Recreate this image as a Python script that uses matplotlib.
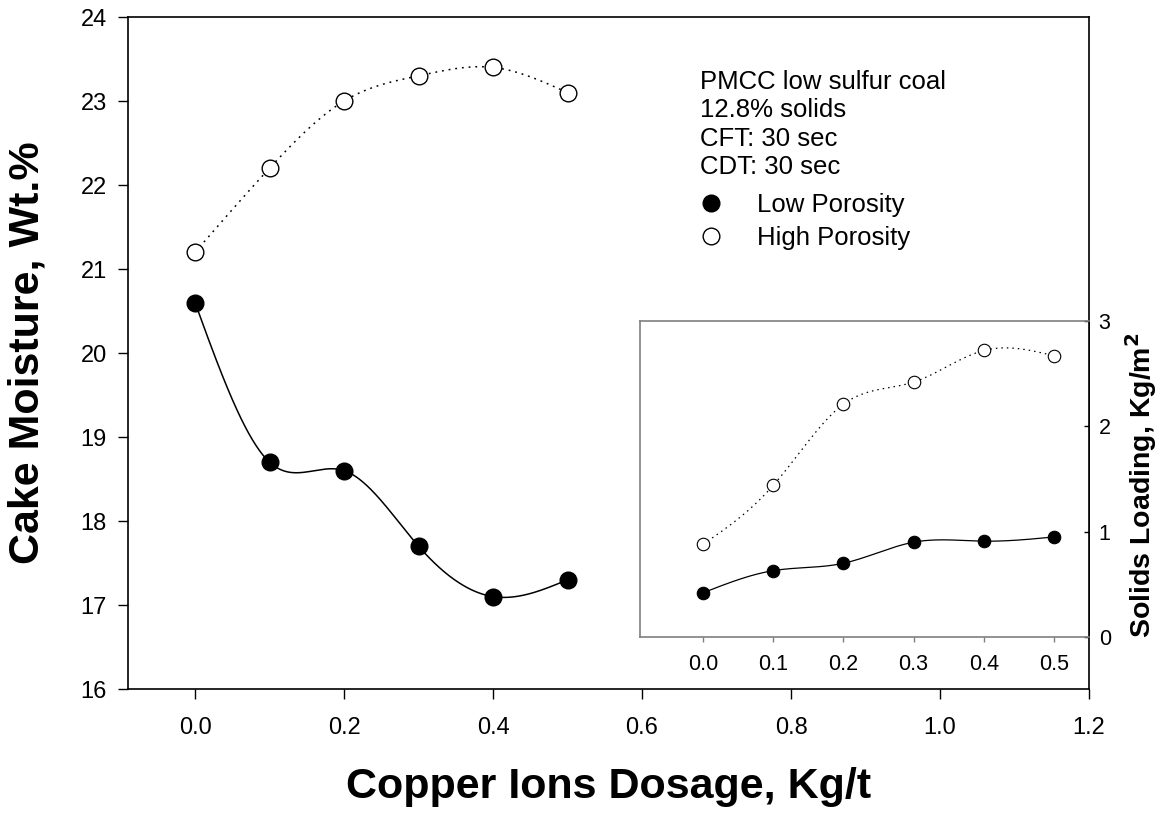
import numpy as np
import matplotlib
matplotlib.use("Agg")
import matplotlib.pyplot as plt
from matplotlib.lines import Line2D

plt.rcParams['font.family'] = ['Liberation Sans', 'DejaVu Sans']

# ---------------- data ----------------
dosage = [0.0, 0.1, 0.2, 0.3, 0.4, 0.5]
moist_low = [20.6, 18.7, 18.6, 17.7, 17.1, 17.3]
moist_high = [21.2, 22.2, 23.0, 23.3, 23.4, 23.1]
load_low = [0.42, 0.63, 0.70, 0.90, 0.91, 0.95]
load_high = [0.88, 1.44, 2.21, 2.42, 2.72, 2.67]

main_xticks = [0.0, 0.2, 0.4, 0.6, 0.8, 1.0, 1.2]
main_yticks = [16, 17, 18, 19, 20, 21, 22, 23, 24]
inset_xticks = [0.0, 0.1, 0.2, 0.3, 0.4, 0.5]
inset_yticks = [0, 1, 2, 3]
info_lines = ["PMCC low sulfur coal", "12.8% solids", "CFT: 30 sec", "CDT: 30 sec"]
legend_labels = ["Low Porosity", "High Porosity"]


def spline(x, y, n=300):
    """Natural cubic spline through the data points (for smooth connecting line)."""
    x = np.asarray(x, float)
    y = np.asarray(y, float)
    m = len(x)
    h = np.diff(x)
    A = np.zeros((m, m))
    b = np.zeros(m)
    A[0, 0] = 1
    A[-1, -1] = 1
    for i in range(1, m - 1):
        A[i, i - 1] = h[i - 1]
        A[i, i] = 2 * (h[i - 1] + h[i])
        A[i, i + 1] = h[i]
        b[i] = 3 * ((y[i + 1] - y[i]) / h[i] - (y[i] - y[i - 1]) / h[i - 1])
    c = np.linalg.solve(A, b)
    bc = (y[1:] - y[:-1]) / h - h * (2 * c[:-1] + c[1:]) / 3
    d = (c[1:] - c[:-1]) / (3 * h)
    xs = np.linspace(x[0], x[-1], n)
    idx = np.clip(np.searchsorted(x, xs) - 1, 0, m - 2)
    dx = xs - x[idx]
    ys = y[idx] + bc[idx] * dx + c[idx] * dx ** 2 + d[idx] * dx ** 3
    return xs, ys


W, H = 1164, 819
fig = plt.figure(figsize=(W / 100, H / 100), dpi=100)

# main axes: pixel box left 128, right 1089, top 17, bottom 689
L, R, T, B = 128, 1089, 17, 689
ax = fig.add_axes([L / W, 1 - B / H, (R - L) / W, (B - T) / H])
ax.set_xlim(-0.09, 1.2)
ax.set_ylim(16, 24)
for s in ax.spines.values():
    s.set_linewidth(1.2)
    s.set_color('black')

xs, ys = spline(dosage, moist_low)
ax.plot(xs, ys, color='black', lw=1.1)
xs, ys = spline(dosage, moist_high)
ax.plot(xs, ys, color='black', lw=1.1, ls=(0, (1.2, 3.2)))
ax.plot(dosage, moist_low, 'o', ms=12, mfc='black', mec='black', mew=1.0)
ax.plot(dosage, moist_high, 'o', ms=12, mfc='white', mec='black', mew=1.0)

ax.set_xticks(main_xticks)
ax.set_xticklabels([f"{v:.1f}" for v in main_xticks])
ax.set_yticks(main_yticks)
ax.set_yticklabels([str(v) for v in main_yticks])
ax.tick_params(axis='x', direction='out', length=7.2, width=1.0, labelsize=17, pad=13)
ax.tick_params(axis='y', direction='out', length=7.2, width=1.0, labelsize=17, pad=8)

ax.set_xlabel("Copper Ions Dosage, Kg/t", fontsize=31, fontweight='bold')
ax.xaxis.set_label_coords(0.5, (B - 787) / (B - T))
ax.xaxis.label.set_va('center')
ax.set_ylabel("Cake Moisture, Wt.%", fontsize=31, fontweight='bold')
ax.yaxis.set_label_coords((28 - L) / (R - L), 0.5)
ax.yaxis.label.set_va('center')

# info text
def ax_xy(px, py):
    return (px - L) / (R - L), (B - py) / (B - T)

for line, py in zip(info_lines, [82, 110, 139, 167]):
    ax.text(*ax_xy(700, py), line, transform=ax.transAxes, fontsize=18.5,
            ha='left', va='center')

handles = [Line2D([], [], ls='none', marker='o', ms=12, mfc='black', mec='black'),
           Line2D([], [], ls='none', marker='o', ms=12, mfc='white', mec='black')]
leg = ax.legend(handles, legend_labels, loc='upper left',
                bbox_to_anchor=ax_xy(698, 193), bbox_transform=ax.transAxes,
                frameon=False, fontsize=18.5, handlelength=1.0, handletextpad=1.3,
                labelspacing=0.36, borderpad=0, borderaxespad=0)

# inset axes: left 640, right 1089, top 321, bottom 637
iL, iR, iT, iB = 640, 1089, 321, 637
ins = fig.add_axes([iL / W, 1 - iB / H, (iR - iL) / W, (iB - iT) / H])
ins.set_xlim(-0.09, 0.55)
ins.set_ylim(0, 3)
for name, s in ins.spines.items():
    s.set_color('#7f7f7f')
    s.set_linewidth(1.2)
ins.spines['right'].set_color('black')

xs, ys = spline(dosage, load_low)
ins.plot(xs, ys, color='black', lw=0.9)
xs, ys = spline(dosage, load_high)
ins.plot(xs, ys, color='black', lw=0.9, ls=(0, (1.2, 3.2)))
ins.plot(dosage, load_low, 'o', ms=9, mfc='black', mec='black', mew=0.8)
ins.plot(dosage, load_high, 'o', ms=9, mfc='white', mec='black', mew=0.8)

ins.set_xticks(inset_xticks)
ins.set_xticklabels([f"{v:.1f}" for v in inset_xticks])
ins.set_yticks(inset_yticks)
ins.set_yticklabels([str(v) for v in inset_yticks])
ins.yaxis.tick_right()
ins.tick_params(axis='x', direction='out', length=3.6, width=1.0, color='#7f7f7f',
                labelsize=15.5, pad=9)
ins.tick_params(axis='y', which='both', left=False, right=True, direction='in',
                length=3.6, width=1.0, labelsize=15.5, pad=7)
ins.yaxis.set_label_position('right')
ins.set_ylabel("Solids Loading, Kg/m$^{\\mathbf{2}}$", fontsize=20.5, fontweight='bold',
               rotation=90)
ins.yaxis.set_label_coords((1141 - iL) / (iR - iL), (iB - 485) / (iB - iT))
ins.yaxis.label.set_va('center')
ins.yaxis.label.set_ha('center')

fig.savefig("out.png", dpi=100)
